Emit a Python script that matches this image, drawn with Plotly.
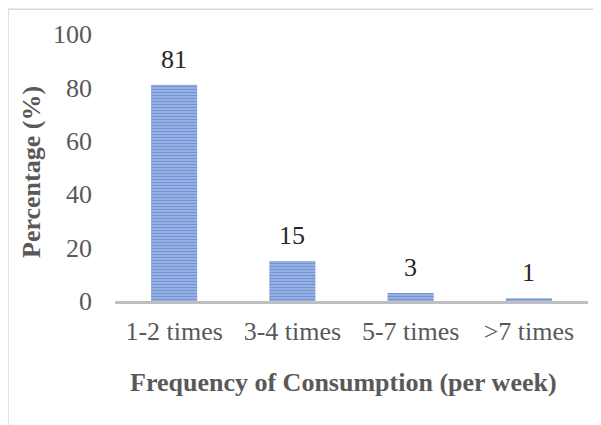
import plotly.graph_objects as go

categories = ["1-2 times", "3-4 times", "5-7 times", ">7 times"]
values = [81, 15, 3, 1]
y_ticks = [0, 20, 40, 60, 80, 100]

# page body has an 8px margin; work in reference pixel coords minus 8
OFF = 8
W, H = 601 - OFF, 425 - OFF
L, R, T, B = 115 - OFF, 13, 32 - OFF, 124
pw, ph = W - L - R, H - T - B

def px_x(x):
    return (x - OFF - L) / pw

def px_y(y):
    return (H - B - (y - OFF)) / ph

fig = go.Figure(go.Bar(
    x=categories, y=values, width=0.39,
    marker=dict(color="#a9bfe8", line=dict(width=0),
                pattern=dict(shape="-", size=3, solidity=0.6,
                             fgcolor="#3563c0", bgcolor="#aec3ea", fillmode="overlay")),
    hoverinfo="skip",
))

font = dict(family="Liberation Serif", size=26, color="#595959")
annotations = [
    dict(x=c, y=v, text=str(v), xref="x", yref="y", showarrow=False,
         yanchor="bottom", yshift=9,
         font=dict(family="Liberation Serif", size=26, color="#262626"))
    for c, v in zip(categories, values)
]
annotations += [
    dict(text="<b>Frequency of Consumption (per week)</b>", xref="paper", yref="paper",
         x=px_x(343.5), y=px_y(383), showarrow=False,
         font=font, xanchor="center", yanchor="middle"),
    dict(text="<b>Percentage (%)</b>", xref="paper", yref="paper",
         x=px_x(32), y=px_y(171), showarrow=False, textangle=-90,
         font=font, xanchor="center", yanchor="middle"),
]

fig.update_layout(
    width=W, height=H, margin=dict(l=L, r=R, t=T, b=B),
    paper_bgcolor="white", plot_bgcolor="white",
    showlegend=False,
    font=font,
    xaxis=dict(showgrid=False, showline=True, linecolor="#BFBFBF", linewidth=3,
               ticks="", tickfont=font, ticklabelstandoff=5, zeroline=False),
    yaxis=dict(range=[0, 100], tickvals=y_ticks, showgrid=False, zeroline=False,
               showline=False, ticks="", tickfont=font, ticklabelstandoff=22),
    annotations=annotations,
    shapes=[
        dict(type="rect", xref="paper", yref="paper",
             x0=px_x(8), x1=px_x(640), y0=px_y(460), y1=px_y(7),
             line=dict(color="#D9D9D9", width=1.5), layer="below"),
    ],
)

fig.write_html("out.html")
